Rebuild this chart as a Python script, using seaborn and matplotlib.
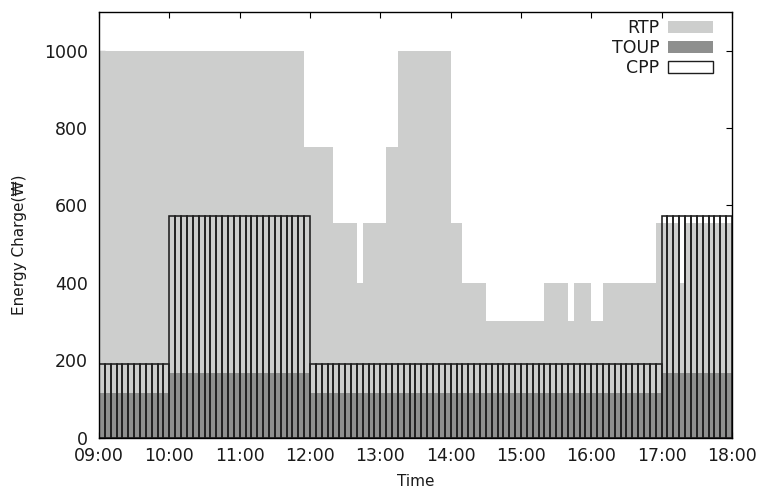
import pandas as pd
import matplotlib
matplotlib.use("Agg")
import matplotlib.pyplot as plt
from matplotlib.patches import Patch
import seaborn as sns

# 5-minute slots from 09:00 to 17:55 (12 per hour)
slots = [f"{h:02d}:{m:02d}" for h in range(9, 18) for m in range(0, 60, 5)]
hour_labels = ["09:00", "10:00", "11:00", "12:00", "13:00",
               "14:00", "15:00", "16:00", "17:00", "18:00"]

# Real time pricing, one row per hour
rtp = [
    1000, 1000, 1000, 1000, 1000, 1000, 1000, 1000, 1000, 1000, 1000, 1000,
    1000, 1000, 1000, 1000, 1000, 1000, 1000, 1000, 1000, 1000, 1000, 1000,
    1000, 1000, 1000, 1000, 1000, 1000, 1000, 1000, 1000, 1000, 1000, 750,
    750, 750, 750, 750, 555, 555, 555, 555, 400, 555, 555, 555,
    555, 750, 750, 1000, 1000, 1000, 1000, 1000, 1000, 1000, 1000, 1000,
    555, 555, 400, 400, 400, 400, 300, 300, 300, 300, 300, 300,
    300, 300, 300, 300, 400, 400, 400, 400, 300, 400, 400, 400,
    300, 300, 400, 400, 400, 400, 400, 400, 400, 400, 400, 555,
    555, 555, 555, 400, 555, 555, 555, 555, 555, 555, 555, 555,
]

# Time of use pricing
toup = [
    114, 114, 114, 114, 114, 114, 114, 114, 114, 114, 114, 114,
    168, 168, 168, 168, 168, 168, 168, 168, 168, 168, 168, 168,
    168, 168, 168, 168, 168, 168, 168, 168, 168, 168, 168, 168,
    114, 114, 114, 114, 114, 114, 114, 114, 114, 114, 114, 114,
    114, 114, 114, 114, 114, 114, 114, 114, 114, 114, 114, 114,
    114, 114, 114, 114, 114, 114, 114, 114, 114, 114, 114, 114,
    114, 114, 114, 114, 114, 114, 114, 114, 114, 114, 114, 114,
    114, 114, 114, 114, 114, 114, 114, 114, 114, 114, 114, 114,
    168, 168, 168, 168, 168, 168, 168, 168, 168, 168, 168, 168,
]

# Critical peak pricing
cpp = [
    190, 190, 190, 190, 190, 190, 190, 190, 190, 190, 190, 190,
    573, 573, 573, 573, 573, 573, 573, 573, 573, 573, 573, 573,
    573, 573, 573, 573, 573, 573, 573, 573, 573, 573, 573, 573,
    190, 190, 190, 190, 190, 190, 190, 190, 190, 190, 190, 190,
    190, 190, 190, 190, 190, 190, 190, 190, 190, 190, 190, 190,
    190, 190, 190, 190, 190, 190, 190, 190, 190, 190, 190, 190,
    190, 190, 190, 190, 190, 190, 190, 190, 190, 190, 190, 190,
    190, 190, 190, 190, 190, 190, 190, 190, 190, 190, 190, 190,
    573, 573, 573, 573, 573, 573, 573, 573, 573, 573, 573, 573,
]

df = pd.DataFrame({"Time": slots, "RTP": rtp, "TOUP": toup, "CPP": cpp})

sns.set_style("ticks")
plt.rcParams['font.family'] = ['DejaVu Sans']
plt.rcParams.update({
    "xtick.direction": "in", "ytick.direction": "in",
    "xtick.top": True, "ytick.right": True,
    "axes.edgecolor": "black", "axes.linewidth": 1.0,
    "xtick.color": "black", "ytick.color": "black",
    "text.color": "#1a1a1a", "axes.labelcolor": "#1a1a1a",
    "xtick.labelcolor": "#1a1a1a", "ytick.labelcolor": "#1a1a1a",
})

rtp_col = "#cdcecd"
toup_col = "#8e8f8e"
cpp_col = "#1e1e1e"

fig, ax = plt.subplots(figsize=(7.7, 4.97), dpi=100)
fig.subplots_adjust(left=0.1286, right=0.9506, top=0.976, bottom=0.1197)

sns.barplot(data=df, x="Time", y="RTP", order=slots, color=rtp_col,
            width=1, linewidth=0, saturation=1, ax=ax)
sns.barplot(data=df, x="Time", y="TOUP", order=slots, color=toup_col,
            width=1, linewidth=0, saturation=1, ax=ax)
sns.barplot(data=df, x="Time", y="CPP", order=slots, color=cpp_col,
            width=1, fill=False, linewidth=1.15, saturation=1, ax=ax)

ax.set_xlim(-0.5, len(slots) - 0.5)
ax.set_ylim(0, 1100)
ax.set_xticks([-0.5 + 12 * k for k in range(len(hour_labels))])
ax.set_xticklabels(hour_labels)
ax.set_yticks([0, 200, 400, 600, 800, 1000])
ax.tick_params(axis="both", labelsize=12.5, length=4, width=0.8)
ax.tick_params(axis="x", pad=7)
ax.tick_params(axis="y", pad=8)
ax.set_xlabel("Time", fontsize=11, labelpad=6)
ax.set_ylabel("Energy Charge(₩)", fontsize=11)
ax.yaxis.set_label_coords(-0.113, 0.452)
for s in ax.spines.values():
    s.set_visible(True)
    s.set_zorder(5)

handles = [
    Patch(facecolor=rtp_col, edgecolor="none", label="RTP"),
    Patch(facecolor=toup_col, edgecolor="none", label="TOUP"),
    Patch(facecolor="white", edgecolor=cpp_col, linewidth=1.0, label="CPP"),
]
ax.legend(handles=handles, loc="upper right", frameon=False, markerfirst=False,
          fontsize=12.5, handlelength=2.6, handletextpad=0.5, labelspacing=0.12,
          borderaxespad=0.0, bbox_to_anchor=(0.981, 1.0))

fig.savefig("out.png", dpi=100)
